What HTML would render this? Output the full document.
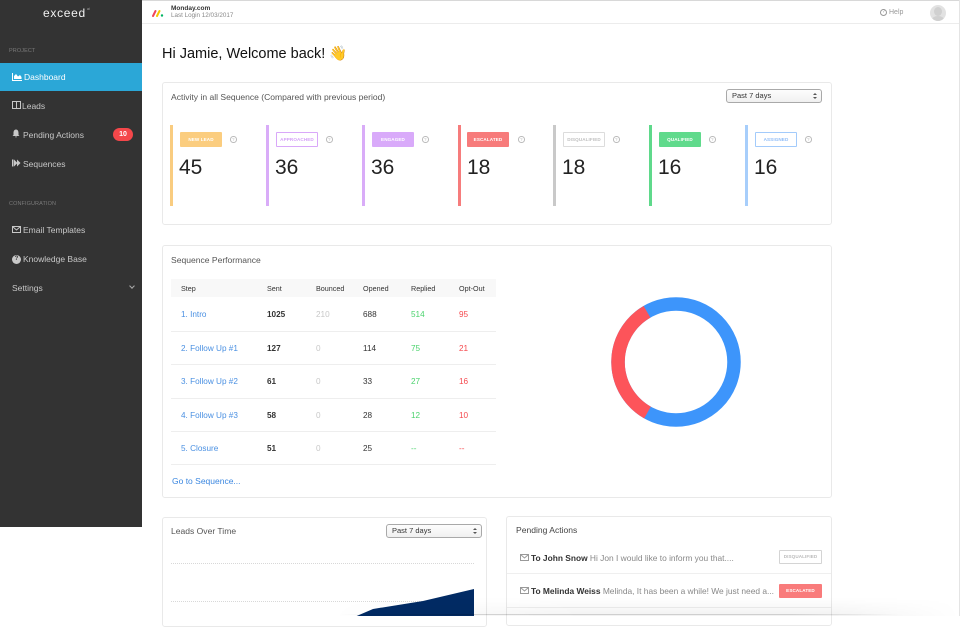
<!DOCTYPE html>
<html><head><meta charset="utf-8">
<style>
*{margin:0;padding:0;box-sizing:border-box}
html,body{width:960px;height:616px;overflow:hidden;background:#fff;font-family:"Liberation Sans",Arial,sans-serif;color:#333}
.a{position:absolute;white-space:nowrap}
.side{position:absolute;left:0;top:0;width:142px;height:527px;background:#333333}
.si{position:absolute;left:12px;font-size:8.5px;color:#c8c8c8;line-height:10px}
.sec{position:absolute;left:9px;font-size:5.5px;color:#7a7a7a;letter-spacing:0.1px}
.card{position:absolute;border:1px solid #e9e9e9;border-radius:3px;background:#fff}
.ttl{font-size:8.55px;color:#555}
.sel{position:absolute;border:1px solid #a9a9a9;border-radius:3px;background:linear-gradient(#fdfdfd,#f0f0f0);font-size:7.5px;color:#333;padding-left:5px;line-height:12px}
.sel:after{content:"";position:absolute;right:4px;top:3px;width:0;height:0;border-left:2px solid transparent;border-right:2px solid transparent;border-bottom:2.5px solid #555}
.sel:before{content:"";position:absolute;right:4px;top:7px;width:0;height:0;border-left:2px solid transparent;border-right:2px solid transparent;border-top:2.5px solid #555}
.bar{position:absolute;top:125px;width:3px;height:81px}
.badge{position:absolute;height:15px;width:42px;font-size:4.6px;font-weight:bold;text-align:center;line-height:13px;border:1px solid transparent;border-radius:1px;letter-spacing:0.1px}
.q{position:absolute;width:6.5px;height:6.5px;border:0.8px solid #bbb;border-radius:50%;font-size:4.5px;color:#bbb;text-align:center;line-height:5px}
.num{position:absolute;font-size:21px;color:#222;line-height:20px}
.th{position:absolute;font-size:7.2px;color:#333;top:284px}
.td{position:absolute;font-size:8.2px;line-height:9px}
.sep{position:absolute;left:171px;width:325px;height:1px;background:#eeeeee}
</style></head><body>

<!-- top border -->
<div class="a" style="left:0;top:0;width:960px;height:1px;background:#d8d8d8"></div>
<div class="a" style="left:959px;top:0;width:1px;height:616px;background:#e4e4e4"></div>

<!-- sidebar -->
<div class="side">
  <div class="a" style="left:43px;top:6px;font-size:12px;color:#f2f2f2;letter-spacing:0.7px">exceed</div>
  <div class="a" style="left:87px;top:7px;font-size:3.5px;color:#aaa">ai</div>
  <div class="sec" style="top:48px">PROJECT</div>
  <div class="a" style="left:0;top:63px;width:142px;height:28px;background:#2ba7d7"></div>
  <svg class="a" style="left:12px;top:73px" width="10" height="8" viewBox="0 0 10 8"><path d="M0 0V8H10V7H1V0Z M2 6V3L4 1L6 3.5L8 2L9.5 4V6Z" fill="#fff"/></svg>
  <div class="si" style="left:24px;top:72px;color:#fff">Dashboard</div>
  <svg class="a" style="left:12px;top:101px" width="9" height="8" viewBox="0 0 9 8"><rect x="0.5" y="0.5" width="8" height="7" fill="none" stroke="#c8c8c8"/><line x1="4.5" y1="0.5" x2="4.5" y2="7.5" stroke="#c8c8c8"/></svg>
  <div class="si" style="left:22px;top:101px">Leads</div>
  <svg class="a" style="left:12px;top:129px" width="8" height="9" viewBox="0 0 8 9"><path d="M4 0.5C2 0.5 1.5 2.5 1.5 4V6L0.5 7H7.5L6.5 6V4C6.5 2.5 6 0.5 4 0.5Z M3 7.5H5L4 8.8Z" fill="#c8c8c8"/></svg>
  <div class="si" style="left:23px;top:130px">Pending Actions</div>
  <div class="a" style="left:113px;top:128px;width:20px;height:13px;border-radius:7px;background:#f4474a;color:#fff;font-size:7px;font-weight:bold;text-align:center;line-height:13px">10</div>
  <svg class="a" style="left:12px;top:159px" width="9" height="8" viewBox="0 0 9 8"><rect x="0" y="0.5" width="1.5" height="7" fill="#c8c8c8"/><path d="M2 0.5L5.5 4L2 7.5Z M5 0.5L8.5 4L5 7.5Z" fill="#c8c8c8"/></svg>
  <div class="si" style="left:23px;top:159px">Sequences</div>
  <div class="sec" style="top:201px">CONFIGURATION</div>
  <svg class="a" style="left:12px;top:226px" width="9" height="7" viewBox="0 0 9 7"><rect x="0.5" y="0.5" width="8" height="6" fill="none" stroke="#c8c8c8"/><path d="M0.5 0.5L4.5 4L8.5 0.5" fill="none" stroke="#c8c8c8"/></svg>
  <div class="si" style="left:23px;top:225px">Email Templates</div>
  <div class="a" style="left:12px;top:255px;width:9px;height:9px;border-radius:50%;background:#c8c8c8;color:#333;font-size:6px;font-weight:bold;text-align:center;line-height:9px">?</div>
  <div class="si" style="left:23px;top:254px">Knowledge Base</div>
  <div class="si" style="top:283px">Settings</div>
  <div class="a" style="left:130px;top:284px;width:4px;height:4px;border-right:1px solid #aaa;border-bottom:1px solid #aaa;transform:rotate(45deg)"></div>
</div>

<!-- top bar -->
<svg class="a" style="left:152px;top:9px" width="12" height="8" viewBox="0 0 12 8"><line x1="1" y1="7" x2="3.5" y2="2" stroke="#f0455a" stroke-width="2" stroke-linecap="round"/><line x1="5" y1="7" x2="7.5" y2="2" stroke="#f7c500" stroke-width="2" stroke-linecap="round"/><circle cx="10" cy="6.5" r="1.2" fill="#00b461"/></svg>
<div class="a" style="left:171px;top:5px;font-size:6.5px;font-weight:bold;color:#333">Monday.com</div>
<div class="a" style="left:171px;top:12px;font-size:6.3px;color:#888">Last Login 12/03/2017</div>
<div class="a" style="left:880px;top:9px;width:7px;height:7px;border:1px solid #999;border-radius:50%;font-size:5px;color:#999;text-align:center;line-height:5px">?</div>
<div class="a" style="left:889px;top:9px;font-size:7px;color:#999">Help</div>
<div class="a" style="left:930px;top:5px;width:16px;height:16px;border-radius:50%;background:#e2e2e2;overflow:hidden"><div class="a" style="left:4px;top:2px;width:8px;height:9px;border-radius:50%;background:#d0d0d0"></div><div class="a" style="left:2px;top:11px;width:12px;height:8px;border-radius:50%;background:#d0d0d0"></div></div>
<div class="a" style="left:142px;top:23px;width:817px;height:1px;background:#ececec"></div>

<!-- heading -->
<div class="a" style="left:162px;top:46px;font-size:14.5px;color:#111;line-height:17px">Hi Jamie, Welcome back! <span style="font-family:'DejaVu Sans',sans-serif;color:#f2b640">👋</span></div>

<!-- card 1 -->
<div class="card" style="left:162px;top:82px;width:670px;height:143px"></div>
<div class="a ttl" style="left:171px;top:92px">Activity in all Sequence (Compared with previous period)</div>
<div class="sel" style="left:726px;top:89px;width:96px;height:14px">Past 7 days</div>

<div class="bar" style="left:170px;background:#f9cc80"></div>
<div class="badge" style="left:180px;top:132px;background:#fbcd7f;color:#fff">NEW LEAD</div>
<div class="q" style="left:230px;top:136px">?</div>
<div class="num" style="left:179px;top:158px">45</div>

<div class="bar" style="left:266px;background:#d9acf8"></div>
<div class="badge" style="left:276px;top:132px;border-color:#d9a8f9;color:#d4a0f7;background:#fff">APPROACHED</div>
<div class="q" style="left:326px;top:136px">?</div>
<div class="num" style="left:275px;top:158px">36</div>

<div class="bar" style="left:361.5px;background:#d9acf8"></div>
<div class="badge" style="left:372px;top:132px;background:#d9aafa;color:#fff">ENGAGED</div>
<div class="q" style="left:422px;top:136px">?</div>
<div class="num" style="left:371px;top:158px">36</div>

<div class="bar" style="left:457.5px;background:#f67c7c"></div>
<div class="badge" style="left:467px;top:132px;background:#f77b7b;color:#fff">ESCALATED</div>
<div class="q" style="left:518px;top:136px">?</div>
<div class="num" style="left:467px;top:158px">18</div>

<div class="bar" style="left:553px;background:#c9c9c9"></div>
<div class="badge" style="left:563px;top:132px;border-color:#dcdcdc;color:#c0c0c0;background:#fff">DISQUALIFIED</div>
<div class="q" style="left:613px;top:136px">?</div>
<div class="num" style="left:562px;top:158px">18</div>

<div class="bar" style="left:649px;background:#5fd98b"></div>
<div class="badge" style="left:659px;top:132px;background:#60da8c;color:#fff">QUALIFIED</div>
<div class="q" style="left:709px;top:136px">?</div>
<div class="num" style="left:658px;top:158px">16</div>

<div class="bar" style="left:745px;background:#a7cefb"></div>
<div class="badge" style="left:755px;top:132px;border-color:#a3cbfb;color:#8fbcf7;background:#fff">ASSIGNED</div>
<div class="q" style="left:805px;top:136px">?</div>
<div class="num" style="left:754px;top:158px">16</div>

<!-- card 2 -->
<div class="card" style="left:162px;top:245px;width:670px;height:253px"></div>
<div class="a ttl" style="left:171px;top:255px">Sequence Performance</div>
<div class="a" style="left:171px;top:279px;width:325px;height:18px;background:#f8f8f8"></div>
<div class="th" style="left:181px">Step</div>
<div class="th" style="left:267px">Sent</div>
<div class="th" style="left:316px">Bounced</div>
<div class="th" style="left:363px">Opened</div>
<div class="th" style="left:411px">Replied</div>
<div class="th" style="left:459px">Opt-Out</div>

<div class="td" style="left:181px;top:310px;color:#4a90e2">1. Intro</div>
<div class="td" style="left:267px;top:310px;font-weight:bold">1025</div>
<div class="td" style="left:316px;top:310px;color:#c8c8c8">210</div>
<div class="td" style="left:363px;top:310px">688</div>
<div class="td" style="left:411px;top:310px;color:#4cd36e">514</div>
<div class="td" style="left:459px;top:310px;color:#f5484d">95</div>
<div class="sep" style="top:331px"></div>

<div class="td" style="left:181px;top:344px;color:#4a90e2">2. Follow Up #1</div>
<div class="td" style="left:267px;top:344px;font-weight:bold">127</div>
<div class="td" style="left:316px;top:344px;color:#c8c8c8">0</div>
<div class="td" style="left:363px;top:344px">114</div>
<div class="td" style="left:411px;top:344px;color:#4cd36e">75</div>
<div class="td" style="left:459px;top:344px;color:#f5484d">21</div>
<div class="sep" style="top:364px"></div>

<div class="td" style="left:181px;top:377px;color:#4a90e2">3. Follow Up #2</div>
<div class="td" style="left:267px;top:377px;font-weight:bold">61</div>
<div class="td" style="left:316px;top:377px;color:#c8c8c8">0</div>
<div class="td" style="left:363px;top:377px">33</div>
<div class="td" style="left:411px;top:377px;color:#4cd36e">27</div>
<div class="td" style="left:459px;top:377px;color:#f5484d">16</div>
<div class="sep" style="top:398px"></div>

<div class="td" style="left:181px;top:411px;color:#4a90e2">4. Follow Up #3</div>
<div class="td" style="left:267px;top:411px;font-weight:bold">58</div>
<div class="td" style="left:316px;top:411px;color:#c8c8c8">0</div>
<div class="td" style="left:363px;top:411px">28</div>
<div class="td" style="left:411px;top:411px;color:#4cd36e">12</div>
<div class="td" style="left:459px;top:411px;color:#f5484d">10</div>
<div class="sep" style="top:431px"></div>

<div class="td" style="left:181px;top:444px;color:#4a90e2">5. Closure</div>
<div class="td" style="left:267px;top:444px;font-weight:bold">51</div>
<div class="td" style="left:316px;top:444px;color:#c8c8c8">0</div>
<div class="td" style="left:363px;top:444px">25</div>
<div class="td" style="left:411px;top:444px;color:#4cd36e">--</div>
<div class="td" style="left:459px;top:444px;color:#f5484d">--</div>
<div class="sep" style="top:464px"></div>

<div class="td" style="left:172px;top:477px;color:#3b87e0;font-size:8.5px">Go to Sequence...</div>

<svg class="a" style="left:0;top:0" width="960" height="616">
  <circle cx="676" cy="362" r="58" fill="none" stroke="#3d95fb" stroke-width="13.5"/>
  <path d="M647.5 412.5 A58 58 0 0 1 647 311.8" fill="none" stroke="#fd545a" stroke-width="13.5"/>
</svg>

<!-- card 3 -->
<div class="card" style="left:162px;top:517px;width:325px;height:110px"></div>
<div class="a ttl" style="left:171px;top:526px">Leads Over Time</div>
<div class="sel" style="left:386px;top:524px;width:96px;height:14px">Past 7 days</div>
<svg class="a" style="left:0;top:0" width="960" height="616">
  <line x1="171" y1="563.5" x2="474" y2="563.5" stroke="#d8d8d8" stroke-dasharray="1,1"/>
  <line x1="171" y1="601.5" x2="474" y2="601.5" stroke="#d8d8d8" stroke-dasharray="1,1"/>
  <path d="M352 618 L373 609 L423 601 L474 589 L474 618 Z" fill="#022b64"/>
</svg>

<!-- card 4 -->
<div class="card" style="left:506px;top:516px;width:326px;height:110px"></div>
<div class="a ttl" style="left:516px;top:525px;color:#444">Pending Actions</div>
<svg class="a" style="left:520px;top:554px" width="9" height="7" viewBox="0 0 9 7"><rect x="0.5" y="0.5" width="8" height="6" fill="none" stroke="#999"/><path d="M0.5 0.5L4.5 4L8.5 0.5" fill="none" stroke="#999"/></svg>
<div class="a" style="left:531px;top:553px;font-size:8.4px;color:#888"><b style="color:#333">To John Snow</b> Hi Jon I would like to inform you that....</div>
<div class="badge" style="left:779px;top:550px;width:43px;height:14px;line-height:12px;border-color:#d4d4d4;color:#bbb;background:#fff">DISQUALIFIED</div>
<div class="a" style="left:507px;top:573px;width:324px;height:1px;background:#efefef"></div>
<svg class="a" style="left:520px;top:587px" width="9" height="7" viewBox="0 0 9 7"><rect x="0.5" y="0.5" width="8" height="6" fill="none" stroke="#999"/><path d="M0.5 0.5L4.5 4L8.5 0.5" fill="none" stroke="#999"/></svg>
<div class="a" style="left:531px;top:586px;font-size:8.4px;color:#888"><b style="color:#333">To Melinda Weiss</b> Melinda, It has been a while! We just need a...</div>
<div class="badge" style="left:779px;top:584px;width:43px;height:14px;line-height:12px;background:#f97b7b;color:#fff">ESCALATED</div>
<div class="a" style="left:507px;top:607px;width:324px;height:1px;background:#efefef"></div>

<!-- bottom shadow -->
<div class="a" style="left:330px;top:598px;width:630px;height:18px;background:linear-gradient(to bottom,rgba(0,0,0,0),rgba(0,0,0,0.05));-webkit-mask-image:linear-gradient(to right,transparent,#000 40%,#000 80%,transparent)"></div>
<div class="a" style="left:340px;top:614px;width:560px;height:1px;background:linear-gradient(to right,rgba(0,0,0,0),rgba(0,0,0,0.15) 20%,rgba(0,0,0,0.15) 80%,rgba(0,0,0,0))"></div>

</body></html>
